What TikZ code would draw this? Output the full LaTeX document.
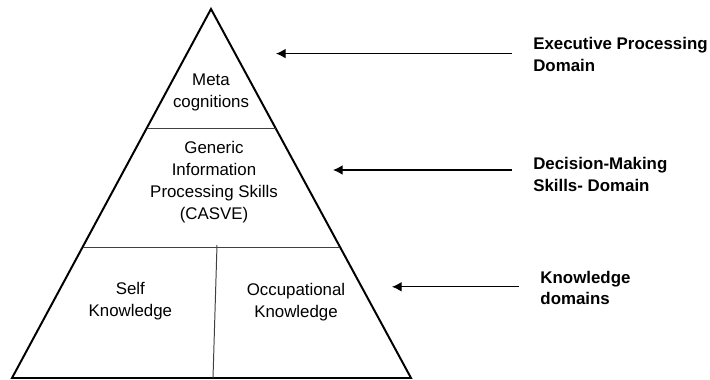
\documentclass[tikz,border=0pt]{standalone}
\usepackage{fontspec}
\setmainfont{Liberation Sans}
\usepackage{tikz}
\usetikzlibrary{arrows.meta}

\tikzset{
    tier/.style={align=center, font=\fontsize{12}{15.6}\selectfont},
    domainlabel/.style={align=left, anchor=west, inner xsep=0.525cm, inner ysep=0pt, font=\bfseries\fontsize{12}{15.6}\selectfont},
    divider/.style={line width=0.7pt, black!75},
    pointer/.style={line width=0.8pt, -{Latex[length=2.4mm,width=2.4mm]}}
}

\begin{document}
\begin{tikzpicture}
            \useasboundingbox (0,0) rectangle (17.75,9.5);

            \coordinate (apex) at (5.275,9.275);
            \coordinate (left) at (0.3,0.05);
            \coordinate (right) at (10.275,0.05);

            \coordinate (upl) at (3.7,6.29);
            \coordinate (upr) at (6.9,6.29);
            \coordinate (lol) at (2.075,3.325);
            \coordinate (lor) at (8.475,3.325);
            \coordinate (splittop) at (5.425,3.375);
            \coordinate (splitbot) at (5.325,0.05);

            \node[tier] (meta) at (5.275,7.2) {Meta\\cognitions};
            \node[tier] (generic) at (5.35,4.94) {Generic\\Information\\Processing Skills\\(CASVE)};
            \node[tier] (self) at (3.26,1.98) {Self\\Knowledge};
            \node[tier] (occup) at (7.4,1.94) {Occupational\\Knowledge};

            \node[domainlabel] (execlabel) at (12.8,8.14) {Executive Processing\\Domain};
            \node[domainlabel] (decilabel) at (12.8,5.13) {Decision-Making\\Skills- Domain};
            \node[domainlabel] (knowlabel) at (12.98,2.3) {Knowledge\\domains};

            \coordinate (exectip) at (6.9,8.16);
            \coordinate (decitip) at (8.325,5.25);
            \coordinate (knowtip) at (9.8,2.33);

            \draw[line width=1.4pt, line join=miter] (apex) -- (left) -- (right) -- cycle;
            \draw[divider] (upl) -- (upr);
            \draw[divider] (lol) -- (lor);
            \draw[divider] (splittop) -- (splitbot);

            \draw[pointer] (execlabel.west |- exectip) -- (exectip);
            \draw[pointer] (decilabel.west |- decitip) -- (decitip);
            \draw[pointer] (knowlabel.west |- knowtip) -- (knowtip);
        \end{tikzpicture}
\end{document}
